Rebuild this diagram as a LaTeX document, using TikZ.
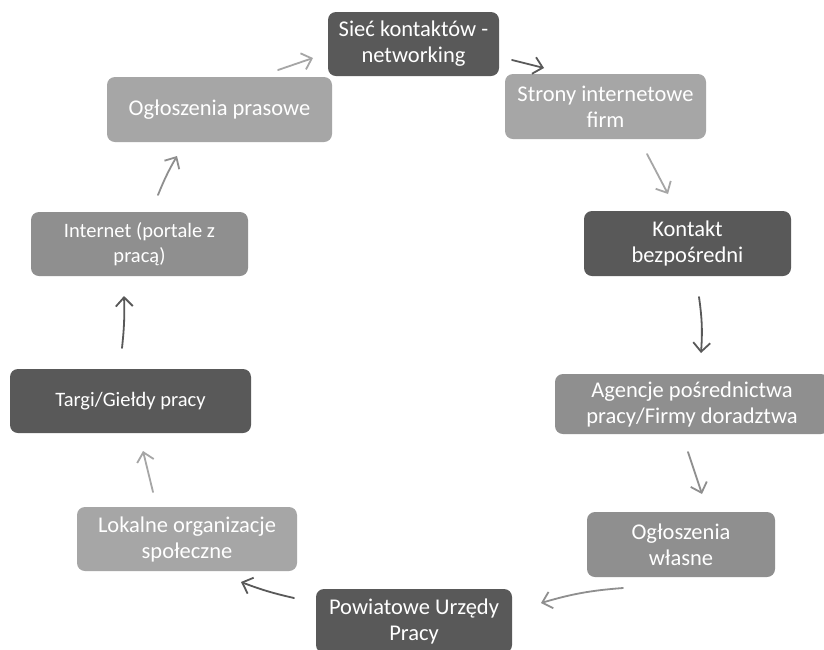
\documentclass[tikz,border=0pt]{standalone}
\usepackage{fontspec}
\setmainfont{Carlito}
\usetikzlibrary{arrows.meta}
\definecolor{dk}{HTML}{595959}
\definecolor{md}{HTML}{8F8F8F}
\definecolor{lt}{HTML}{A6A6A6}
\tikzset{
  box/.style={rounded corners=8pt, text=white, align=center, inner sep=0pt,
    font=\fontsize{22.5}{26}\selectfont},
  small/.style={font=\fontsize{20.5}{25}\selectfont},
  arr/.style={line width=1.8pt, line cap=round, -{Straight Barb[length=9pt,width=17pt]}},
}
\begin{document}
\begin{tikzpicture}[x=1pt,y=-1pt]
\clip (0,0) rectangle (824,649);
\fill[white] (0,0) rectangle (824,649);
% boxes
\node[box, fill=dk, minimum width=171pt, minimum height=64pt] (siec) at (413.5,44) {Sieć kontaktów -\\networking};
\node[box, fill=lt, minimum width=201pt, minimum height=65pt] (strony) at (605.5,106.5) {Strony internetowe\\firm};
\node[box, fill=dk, minimum width=207pt, minimum height=65pt] (kontakt) at (687.5,243.5) {Kontakt\\bezpośredni};
\node[box, fill=md, minimum width=274pt, minimum height=60pt] (agencje) at (692,404) {Agencje pośrednictwa\\pracy/Firmy doradztwa};
\node[box, fill=md, minimum width=188pt, minimum height=65pt] (wlasne) at (681,544.5) {Ogłoszenia\\własne};
\node[box, fill=dk, minimum width=196pt, minimum height=64pt] (powiat) at (414,621) {Powiatowe Urzędy\\Pracy};
\node[box, fill=lt, minimum width=220pt, minimum height=64pt] (lokalne) at (187,539) {Lokalne organizacje\\społeczne};
\node[box, small, fill=dk, minimum width=241pt, minimum height=64pt] (targi) at (130.5,401) {Targi/Giełdy pracy};
\node[box, small, fill=md, minimum width=217pt, minimum height=64pt] (internet) at (139.5,244) {Internet (portale z\\pracą)};
\node[box, fill=lt, minimum width=225pt, minimum height=65pt] (prasowe) at (219.5,109.5) {Ogłoszenia prasowe};
% arrow end points
\coordinate (a1s) at (278,70);  \coordinate (a1e) at (313,58);
\coordinate (a2s) at (512,60);  \coordinate (a2e) at (544,68);
\coordinate (a3s) at (647,154); \coordinate (a3e) at (668,194);
\coordinate (a4s) at (699,297); \coordinate (a4e) at (701,353);
\coordinate (a5s) at (688,452); \coordinate (a5e) at (702,494);
\coordinate (a6s) at (623,588); \coordinate (a6e) at (541,603);
\coordinate (a7s) at (294,598); \coordinate (a7e) at (241,582);
\coordinate (a8s) at (153,492); \coordinate (a8e) at (143,451);
\coordinate (a9s) at (122,348); \coordinate (a9e) at (124,296);
\coordinate (a10s) at (158,195); \coordinate (a10e) at (177,156);
% arrows
\draw[arr, lt] (a1s) -- (a1e);
\draw[arr, dk] (a2s) -- (a2e);
\draw[arr, lt] (a3s) -- (a3e);
\draw[arr, dk] (a4s) to[bend left=6] (a4e);
\draw[arr, md] (a5s) -- (a5e);
\draw[arr, md] (a6s) to[bend right=6] (a6e);
\draw[arr, dk] (a7s) to[bend left=4] (a7e);
\draw[arr, lt] (a8s) -- (a8e);
\draw[arr, dk] (a9s) to[bend right=4] (a9e);
\draw[arr, md] (a10s) to[bend left=4] (a10e);
\end{tikzpicture}
\end{document}
